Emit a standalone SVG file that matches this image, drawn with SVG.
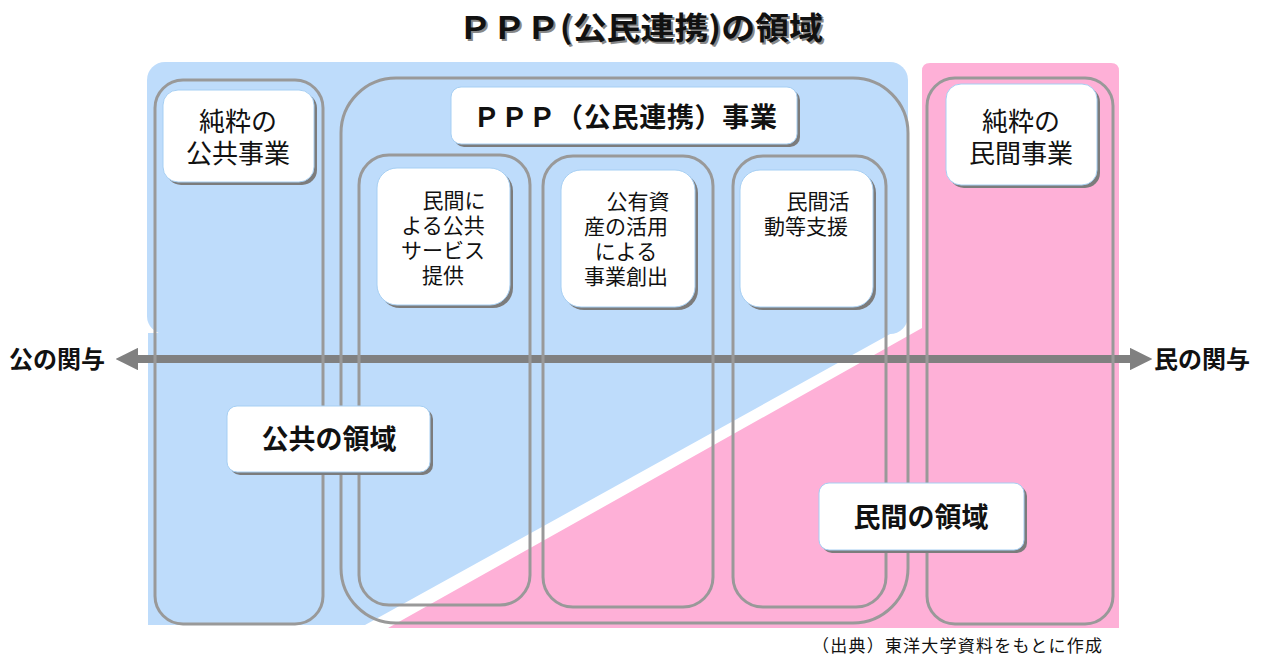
<svg xmlns="http://www.w3.org/2000/svg" width="1262" height="658" viewBox="0 0 1262 658">
<defs>
<style>
.col{fill:none;stroke:#999999;stroke-width:3}
.shadow{fill:#7c7c7c}
.box{fill:#ffffff;stroke:#a6cff3;stroke-width:1}
.t{font-family:"Noto Sans CJK JP","Noto Sans",sans-serif;fill:#111111;text-anchor:middle}
.r26{font-size:26px}
.r21{font-size:21px}
.b27{font-size:27px;font-weight:bold}
.b24{font-size:24px;font-weight:bold}
</style>
<marker id="ah" viewBox="0 0 10 10" refX="0" refY="5" markerWidth="2.8" markerHeight="2.8" markerUnits="strokeWidth" orient="auto-start-reverse">
<path d="M0,0 L10,5 L0,10 z" fill="#808080"/>
</marker>
</defs>
<rect width="1262" height="658" fill="#ffffff"/>
<g id="background">
<rect x="147" y="62" width="761" height="272" rx="18" fill="#bedcfb"/>
<polygon points="148,333 892,333 365,625 148,625" fill="#bedcfb"/>
<path d="M922,328 L922,71 Q922,63 930,63 L1111,63 Q1119,63 1119,71 L1119,628 L388,628 Z" fill="#feb0d7"/>
</g>
<g id="connectors">
<line x1="138" y1="359" x2="1130" y2="359" stroke="#808080" stroke-width="8" marker-start="url(#ah)" marker-end="url(#ah)"/>
</g>
<g id="columns">
<rect id="col-public" class="col" x="155" y="80" width="168" height="544" rx="28"/>
<rect id="col-ppp" class="col" x="341" y="78" width="567" height="545" rx="55"/>
<rect id="col-ppp1" class="col" x="359" y="155" width="171" height="450" rx="30"/>
<rect id="col-ppp2" class="col" x="543" y="156" width="170" height="451" rx="30"/>
<rect id="col-ppp3" class="col" x="733" y="156" width="153" height="451" rx="30"/>
<rect id="col-private" class="col" x="927" y="78" width="186" height="546" rx="28"/>
</g>
<g id="title">
<text x="460" y="41" class="t" style="font-size:31px;font-weight:bold;text-anchor:start;fill:#888888" textLength="365" lengthAdjust="spacingAndGlyphs">ＰＰＰ(公民連携)の領域</text>
<text x="458" y="39" class="t" style="font-size:31px;font-weight:bold;text-anchor:start" textLength="365" lengthAdjust="spacingAndGlyphs">ＰＰＰ(公民連携)の領域</text>
</g>
<g id="node-pure-public">
<rect class="shadow" x="166" y="93" width="151" height="92" rx="15"/>
<rect class="box" x="163" y="90" width="151" height="92" rx="15"/>
<text class="t r26" x="238" y="131">純粋の</text>
<text class="t r26" x="238" y="163">公共事業</text>
</g>
<g id="node-ppp">
<rect class="shadow" x="454" y="90" width="346" height="57" rx="10"/>
<rect class="box" x="451" y="87" width="346" height="57" rx="10"/>
<text class="t b27" x="625" y="127" textLength="304" lengthAdjust="spacing">ＰＰＰ（公民連携）事業</text>
</g>
<g id="node-ppp-service">
<rect class="shadow" x="380" y="171" width="133" height="137" rx="20"/>
<rect class="box" x="377" y="168" width="133" height="137" rx="20"/>
<text class="t r21" x="454" y="208">民間に</text>
<text class="t r21" x="443" y="233">よる公共</text>
<text class="t r21" x="443" y="258">サービス</text>
<text class="t r21" x="443" y="283">提供</text>
</g>
<g id="node-ppp-asset">
<rect class="shadow" x="564" y="173" width="134" height="137" rx="20"/>
<rect class="box" x="561" y="170" width="134" height="137" rx="20"/>
<text class="t r21" x="638" y="209">公有資</text>
<text class="t r21" x="626" y="234">産の活用</text>
<text class="t r21" x="626" y="259">による</text>
<text class="t r21" x="626" y="284">事業創出</text>
</g>
<g id="node-ppp-support">
<rect class="shadow" x="743" y="173" width="133" height="137" rx="20"/>
<rect class="box" x="740" y="170" width="133" height="137" rx="20"/>
<text class="t r21" x="818" y="209">民間活</text>
<text class="t r21" x="806" y="234">動等支援</text>
</g>
<g id="node-pure-private">
<rect class="shadow" x="949" y="87" width="151" height="101" rx="15"/>
<rect class="box" x="946" y="84" width="151" height="101" rx="15"/>
<text class="t r26" x="1021" y="131">純粋の</text>
<text class="t r26" x="1021" y="163">民間事業</text>
</g>
<g id="node-public-area">
<rect class="shadow" x="230" y="409" width="203" height="66" rx="10"/>
<rect class="box" x="227" y="406" width="203" height="66" rx="10"/>
<text class="t b27" x="329" y="449">公共の領域</text>
</g>
<g id="node-private-area">
<rect class="shadow" x="822" y="486" width="205" height="67" rx="10"/>
<rect class="box" x="819" y="483" width="205" height="67" rx="10"/>
<text class="t b27" x="921" y="527">民間の領域</text>
</g>
<g id="axis-labels">
<text class="t b24" x="57" y="368">公の関与</text>
<text class="t b24" x="1202" y="368">民の関与</text>
</g>
<g id="source">
<text class="t" x="812" y="652" style="font-size:17px;text-anchor:start" textLength="290" lengthAdjust="spacing">（出典）東洋大学資料をもとに作成</text>
</g>
</svg>
